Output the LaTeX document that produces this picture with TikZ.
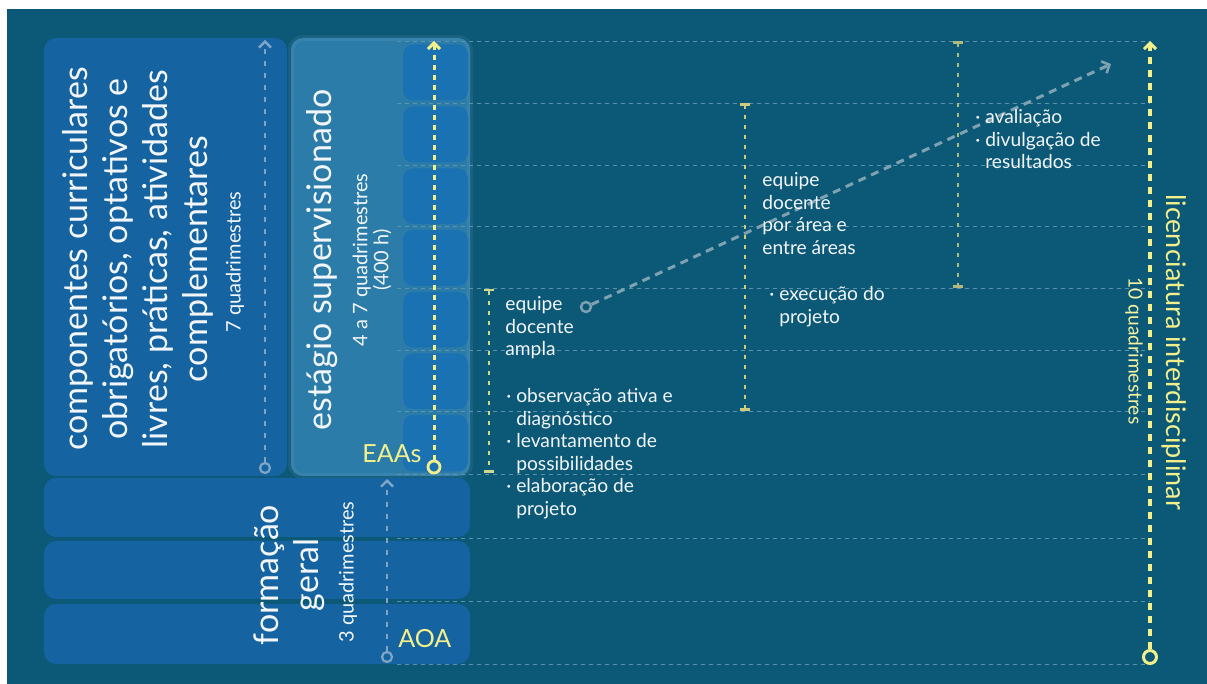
\documentclass[tikz,border=0pt]{standalone}
\usepackage{fontspec}
\setmainfont{Lato}
\usetikzlibrary{arrows.meta,positioning}
\definecolor{bgteal}{HTML}{0C5877}
\definecolor{boxblue}{HTML}{1563A0}
\definecolor{stageblue}{HTML}{2B7CA8}
\definecolor{cellblue}{HTML}{1B72B3}
\definecolor{gridteal}{HTML}{5B93AC}
\definecolor{lightyellow}{HTML}{F3F08C}
\definecolor{bracketyellow}{HTML}{CFCB7C}
\definecolor{paleblue}{HTML}{7FA6C6}
\definecolor{diaggray}{HTML}{7FA2B2}
\definecolor{textwhite}{HTML}{F2F6F8}
\tikzstyle{blockbox}=[fill=boxblue,rounded corners=6pt]
\tikzstyle{bigtext}=[text=textwhite,inner sep=0pt,align=center,font=\fontsize{17}{20}\selectfont]
\tikzstyle{smalltext}=[text=textwhite,inner sep=0pt,align=center,font=\fontsize{10}{10.5}\selectfont]
\tikzstyle{notetext}=[text=textwhite,inner sep=0pt,align=left,anchor=north west,font=\fontsize{9.6}{11.3}\selectfont]
\tikzstyle{gridline}=[gridteal,line width=0.5pt,dash pattern=on 2pt off 2pt]
\tikzstyle{bracket}=[bracketyellow,line width=1.25pt,dash pattern=on 2pt off 3pt,{Bar[width=5pt,line width=1.25pt]}-{Bar[width=5pt,line width=1.25pt]}]
\tikzstyle{pathdot}=[circle,draw,line width=1.1pt,minimum size=5pt,inner sep=0pt]
\tikzstyle{palearrow}=[paleblue,line width=1pt,dash pattern=on 2.5pt off 3.5pt,-{Straight Barb[length=3pt,width=6pt,line width=1.2pt]}]
\tikzstyle{yellowarrow}=[lightyellow,line width=1.5pt,dash pattern=on 2.5pt off 2.5pt,-{Straight Barb[length=3pt,width=6pt,line width=1.5pt]}]
\newcommand{\gridrows}{41.5,103.5,165.5,227,289,350.5,412,474.5,539,601.5,664.5}
\begin{document}
\begin{tikzpicture}[x=0.5pt,y=-0.5pt]
  \useasboundingbox (0,0) rectangle (1207,684);
  \fill[bgteal] (7,9) rectangle (1207,684);
  % left column
  \fill[blockbox] (44,38) rectangle (287,476);
  \fill[stageblue,rounded corners=6pt,draw=white,draw opacity=0.06,line width=3pt] (291,38) rectangle (470,476);
  \foreach \top/\bot in {41.5/103.5,103.5/165.5,165.5/227,227/289,289/350.5,350.5/412,412/474.5}
    \fill[cellblue,rounded corners=5pt] (403,\top+3) rectangle (468,\bot-3);
  \fill[blockbox] (44,478) rectangle (470,537);
  \fill[blockbox] (44,541) rectangle (470,599);
  \fill[blockbox] (44,604) rectangle (470,664);
  % time grid
  \foreach \y in \gridrows
    \draw[gridline] (397,\y) -- (1150,\y);
  % texts of the left column
  \node[bigtext,rotate=90] (components) at (138,259) {componentes curriculares\\obrigatórios, optativos e\\livres, práticas, atividades\\complementares};
  \node[smalltext,rotate=90] (componentsTime) at (235,262) {7 quadrimestres};
  \node[bigtext,rotate=90] (stage) at (322,260) {estágio supervisionado};
  \node[smalltext,rotate=90] (stageTime) at (372,260) {4 a 7 quadrimestres\\(400 h)};
  \node[bigtext,rotate=90] (general) at (289,575) {formação\\geral};
  \node[smalltext,rotate=90] (generalTime) at (348,572) {3 quadrimestres};
  \node[text=lightyellow,inner sep=0pt,anchor=base west,font=\fontsize{12.5}{15}\selectfont] (eaas) at (362,463) {EAAs};
  \node[text=lightyellow,inner sep=0pt,anchor=base west,font=\fontsize{12.5}{15}\selectfont] (aoa) at (398,648) {AOA};
  % vertical arrows
  \node[pathdot,paleblue] (componentsStart) at (265,468) {};
  \coordinate (componentsEnd) at (265,40);
  \draw[palearrow] (componentsStart) -- (componentsEnd);
  \node[pathdot,paleblue] (generalStart) at (387,657) {};
  \coordinate (generalEnd) at (387,479);
  \draw[palearrow] (generalStart) -- (generalEnd);
  \node[pathdot,lightyellow,line width=1.4pt,minimum size=6pt] (eaasStart) at (434,467) {};
  \coordinate (eaasEnd) at (434,41);
  \draw[yellowarrow] (eaasStart) -- (eaasEnd);
  \node[pathdot,lightyellow,line width=1.5pt,minimum size=6.5pt] (courseStart) at (1150,657) {};
  \coordinate (courseEnd) at (1150,41);
  \draw[yellowarrow,line width=2pt,dash pattern=on 3.5pt off 3pt] (courseStart) -- (courseEnd);
  \node[text=lightyellow,inner sep=0pt,rotate=-90,font=\fontsize{13.5}{15}\selectfont] (course) at (1174,352) {licenciatura interdisciplinar};
  \node[text=lightyellow!80!white,inner sep=0pt,rotate=-90,font=\fontsize{9.6}{11}\selectfont] (courseTime) at (1134,351) {10 quadrimestres};
  % diagonal progress
  \node[pathdot,diaggray,line width=1.2pt] (progressStart) at (586,307) {};
  \coordinate (progressEnd) at (1111,64);
  \draw[diaggray,line width=1.5pt,dash pattern=on 4pt off 3pt,-{Straight Barb[length=3pt,width=6.5pt,line width=1.3pt]}] (progressStart) -- (progressEnd);
  % phases
  \coordinate (phaseOneTop) at (489,289);
  \coordinate (phaseOneBot) at (489,473);
  \draw[bracket,lightyellow!85!bgteal] (phaseOneTop) -- (phaseOneBot);
  \coordinate (phaseTwoTop) at (745,103.5);
  \coordinate (phaseTwoBot) at (745,411);
  \draw[bracket] (phaseTwoTop) -- (phaseTwoBot);
  \coordinate (phaseThreeTop) at (958,41.5);
  \coordinate (phaseThreeBot) at (958,288);
  \draw[bracket,bracketyellow!85!bgteal] (phaseThreeTop) -- (phaseThreeBot);
  \node[notetext] (teamOne) at (505,296) {equipe\\docente\\ampla};
  \node[notetext] (tasksOne) at (506,388) {· observação ativa e\\\hphantom{· }diagnóstico\\· levantamento de\\\hphantom{· }possibilidades\\· elaboração de\\\hphantom{· }projeto};
  \node[notetext] (teamTwo) at (762,172) {equipe\\docente\\por área e\\entre áreas};
  \node[notetext] (tasksTwo) at (769,286) {· execução do\\\hphantom{· }projeto};
  \node[notetext] (tasksThree) at (975,109) {· avaliação\\· divulgação de\\\hphantom{· }resultados};
\end{tikzpicture}
\end{document}
